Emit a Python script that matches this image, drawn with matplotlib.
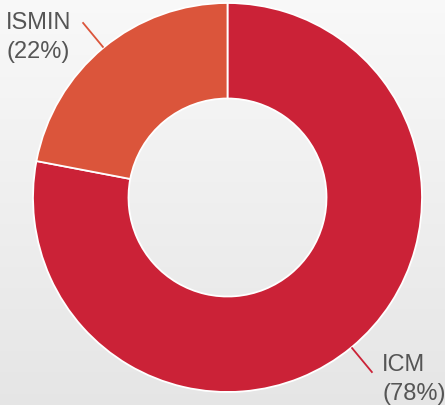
import matplotlib
matplotlib.use("Agg")
import matplotlib.pyplot as plt
import numpy as np

labels = ["ICM", "ISMIN"]
shares = [78, 22]
colors = ["#cb2237", "#db553b"]

W, H = 445, 406
CX, CY = 227.5, H - 198.5
R_OUT, R_IN = 194.5, 99.0

fig = plt.figure(figsize=(W / 100, H / 100), dpi=100)
ax = fig.add_axes([0, 0, 1, 1])

# light vertical gradient behind everything (darker at the bottom)
grad = np.linspace(0.900, 0.975, 256).reshape(-1, 1)
ax.imshow(np.dstack([grad] * 3), extent=[0, W, 0, H], origin="lower",
          aspect="auto", zorder=0)

wedges, _ = ax.pie(shares, colors=colors, startangle=90, counterclock=False,
                   center=(CX, CY), radius=R_OUT, frame=True,
                   wedgeprops=dict(width=R_OUT - R_IN, edgecolor="white", linewidth=1.3))
for w in wedges:
    w.set_zorder(2)
ax.set_xlim(0, W)
ax.set_ylim(0, H)
ax.set_aspect("equal")
ax.axis("off")

# leader lines along each wedge's mid angle
text_pos = {"ISMIN": (6, H - 29), "ICM": (382, H - 371)}
for w, lab, val, col in zip(wedges, labels, shares, colors):
    mid = np.deg2rad((w.theta1 + w.theta2) / 2)
    r0, r1 = R_OUT + 1, R_OUT + 32
    ax.plot([CX + r0 * np.cos(mid), CX + r1 * np.cos(mid)],
            [CY + r0 * np.sin(mid), CY + r1 * np.sin(mid)],
            color=col, lw=1.3, zorder=3)
    x, y = text_pos[lab]
    ax.text(x, y, lab, ha="left", va="baseline", fontsize=17,
            family="Liberation Sans", color="#555555", zorder=4)
    ax.text(x, y - 29, f"({val}%)", ha="left", va="baseline", fontsize=17,
            family="Liberation Sans", color="#555555", zorder=4)

fig.savefig("out.png", dpi=100)
